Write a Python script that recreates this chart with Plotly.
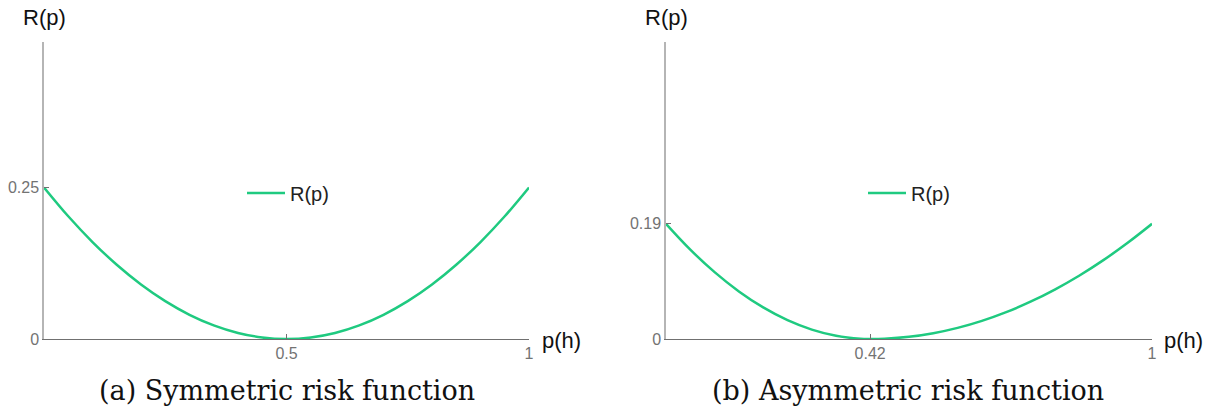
import plotly.graph_objects as go

# Data
p_sym = [0.0, 0.05, 0.1, 0.15, 0.2, 0.25, 0.3, 0.35, 0.4, 0.45, 0.5,
         0.55, 0.6, 0.65, 0.7, 0.75, 0.8, 0.85, 0.9, 0.95, 1.0]
r_sym = [0.25, 0.2025, 0.16, 0.1225, 0.09, 0.0625, 0.04, 0.0225, 0.01, 0.0025, 0.0,
         0.0025, 0.01, 0.0225, 0.04, 0.0625, 0.09, 0.1225, 0.16, 0.2025, 0.25]

p_asym = [0.0, 0.05, 0.1, 0.15, 0.2, 0.25, 0.3, 0.35, 0.4, 0.42, 0.45, 0.5,
          0.55, 0.6, 0.65, 0.7, 0.75, 0.8, 0.85, 0.9, 0.95, 1.0]
r_asym = [0.19, 0.1474, 0.1103, 0.0785, 0.0521, 0.0311, 0.0155, 0.0053, 0.0004, 0.0, 0.0005, 0.0036,
          0.0095, 0.0183, 0.0299, 0.0443, 0.0615, 0.0816, 0.1044, 0.1301, 0.1587, 0.19]

sym_xticks = [0.5, 1]
sym_xlabels = ["0.5", "1"]
sym_yticks = [0, 0.25]
sym_ylabels = ["0", "0.25"]
asym_xticks = [0.42, 1]
asym_xlabels = ["0.42", "1"]
asym_yticks = [0, 0.19]
asym_ylabels = ["0", "0.19"]

GREEN = "#1fca80"
W, H = 1216, 416

fig = go.Figure()
fig.add_trace(go.Scatter(x=p_sym, y=r_sym, mode="lines", name="R(p)", showlegend=True,
                         line=dict(color=GREEN, width=2.5, shape="spline"),
                         xaxis="x", yaxis="y", legend="legend"))
fig.add_trace(go.Scatter(x=p_asym, y=r_asym, mode="lines", name="R(p)", showlegend=True,
                         line=dict(color=GREEN, width=2.5, shape="spline"),
                         xaxis="x2", yaxis="y2", legend="legend2"))

xd1 = [44 / W, 529 / W]
xd2 = [666 / W, 1152 / W]
yd = [(H - 339) / H, (H - 42) / H]

tickfont = dict(family="Liberation Sans, Arial, sans-serif", size=16, color="#737373")
common_x = dict(showgrid=False, zeroline=False, showline=True, linecolor="#707070", linewidth=1.2,
                ticks="inside", ticklen=5, tickcolor="#707070", tickfont=tickfont, range=[0, 1],
                fixedrange=True, automargin=False)
common_y = dict(showgrid=False, zeroline=False, showline=True, linecolor="#b5b5b5", linewidth=1.5,
                ticks="inside", ticklen=5, tickcolor="#707070", tickfont=tickfont, range=[0, 0.49],
                fixedrange=True, automargin=False)

legfont = dict(family="Liberation Sans, Arial, sans-serif", size=20, color="#222")
fig.update_layout(
    width=W, height=H, margin=dict(l=0, r=0, t=0, b=0, autoexpand=False), autosize=False,
    showlegend=True,
    paper_bgcolor="white", plot_bgcolor="white",
    xaxis=dict(domain=xd1, anchor="y", tickvals=sym_xticks, ticktext=sym_xlabels, **common_x),
    yaxis=dict(domain=yd, anchor="x", tickvals=sym_yticks, ticktext=sym_ylabels, **common_y),
    xaxis2=dict(domain=xd2, anchor="y2", tickvals=asym_xticks, ticktext=asym_xlabels, **common_x),
    yaxis2=dict(domain=yd, anchor="x2", tickvals=asym_yticks, ticktext=asym_ylabels, **common_y),
    legend=dict(x=242 / W, y=(H - 193) / H, xanchor="left", yanchor="middle", bgcolor="rgba(0,0,0,0)",
                font=legfont, itemwidth=38),
    legend2=dict(x=863 / W, y=(H - 193) / H, xanchor="left", yanchor="middle", bgcolor="rgba(0,0,0,0)",
                 font=legfont, itemwidth=38),
)

lab = dict(family="Liberation Sans, Arial, sans-serif", size=22, color="#111")
cap = dict(family="DejaVu Serif, serif", size=27, color="#111")
ann = [
    dict(text="R(p)", x=44 / W, y=(H - 18) / H, xref="paper", yref="paper", showarrow=False, font=lab,
         xanchor="center", yanchor="middle"),
    dict(text="p(h)", x=540 / W, y=(H - 340) / H, xref="paper", yref="paper", showarrow=False, font=lab,
         xanchor="left", yanchor="middle"),
    dict(text="R(p)", x=666 / W, y=(H - 18) / H, xref="paper", yref="paper", showarrow=False, font=lab,
         xanchor="center", yanchor="middle"),
    dict(text="p(h)", x=1162 / W, y=(H - 340) / H, xref="paper", yref="paper", showarrow=False, font=lab,
         xanchor="left", yanchor="middle"),
    dict(text="(a) Symmetric risk function", x=287 / W, y=(H - 390) / H, xref="paper", yref="paper",
         showarrow=False, font=cap, xanchor="center", yanchor="middle"),
    dict(text="(b) Asymmetric risk function", x=908 / W, y=(H - 390) / H, xref="paper", yref="paper",
         showarrow=False, font=cap, xanchor="center", yanchor="middle"),
]
fig.update_layout(annotations=ann)

fig.write_html("out.html")
